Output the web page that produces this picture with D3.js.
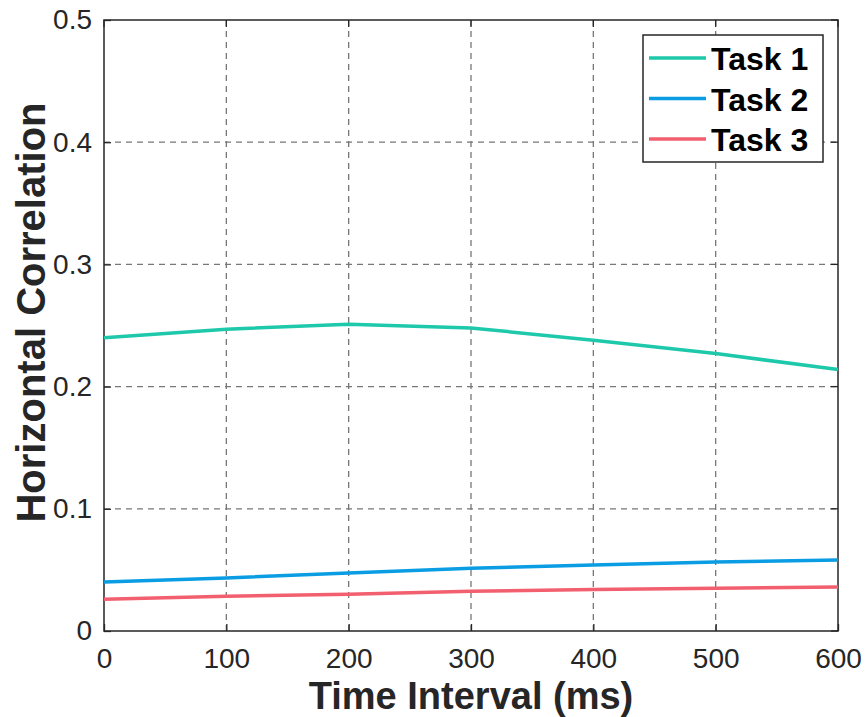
<!DOCTYPE html>
<html><head><meta charset="utf-8">
<script src="https://cdn.jsdelivr.net/npm/d3@7"></script>
<style>body{margin:0;background:#fff}</style>
</head><body>
<script>
const xValues = [0, 100, 200, 300, 400, 500, 600];
const task1 = [0.240, 0.247, 0.251, 0.248, 0.238, 0.227, 0.214];
const task2 = [0.040, 0.0434, 0.0475, 0.0513, 0.054, 0.0565, 0.058];
const task3 = [0.026, 0.0285, 0.030, 0.0325, 0.034, 0.035, 0.036];
const seriesNames = ["Task 1", "Task 2", "Task 3"];
const seriesColors = ["#1ec8aa", "#0a9de3", "#f25f6e"];
const xTicks = [0, 100, 200, 300, 400, 500, 600];
const yTicks = [0, 0.1, 0.2, 0.3, 0.4, 0.5];

const W = 865, H = 717;
const m = {l: 104, r: 27, t: 20, b: 86};
const svg = d3.select("body").append("svg").attr("width", W).attr("height", H);
const x = d3.scaleLinear().domain([0, 600]).range([m.l, W - m.r]);
const y = d3.scaleLinear().domain([0, 0.5]).range([H - m.b, m.t]);
const font = "'Liberation Sans', Arial, Helvetica, sans-serif";

// grid
const grid = svg.append("g").attr("stroke", "#777").attr("stroke-width", 1.3).attr("stroke-dasharray", "6,5");
xTicks.slice(1, -1).forEach(v => grid.append("line").attr("x1", x(v)).attr("x2", x(v)).attr("y1", y(0)).attr("y2", y(0.5)));
yTicks.slice(1, -1).forEach(v => grid.append("line").attr("x1", x(0)).attr("x2", x(600)).attr("y1", y(v)).attr("y2", y(v)));

// axes
const xAxis = d3.axisBottom(x).tickValues(xTicks).tickSizeInner(-7).tickSizeOuter(0).tickPadding(17).tickFormat(d3.format("d"));
const yAxis = d3.axisLeft(y).tickValues(yTicks).tickSizeInner(-7).tickSizeOuter(0).tickPadding(12).tickFormat(d => d === 0 ? "0" : d3.format(".1f")(d));
const gx = svg.append("g").attr("transform", `translate(0,${y(0)})`).call(xAxis);
const gy = svg.append("g").attr("transform", `translate(${x(0)},0)`).call(yAxis);
[gx, gy].forEach(g => {
  g.select(".domain").remove();
  g.selectAll("line").attr("stroke", "#262626").attr("stroke-width", 1.3);
  g.selectAll("text").attr("font-family", font).attr("font-size", 28).attr("fill", "#262626");
});
// top/right ticks
const tk = svg.append("g").attr("stroke", "#262626").attr("stroke-width", 1.3);
xTicks.forEach(v => tk.append("line").attr("x1", x(v)).attr("x2", x(v)).attr("y1", y(0.5)).attr("y2", y(0.5) + 7));
yTicks.forEach(v => tk.append("line").attr("x1", x(600)).attr("x2", x(600) - 7).attr("y1", y(v)).attr("y2", y(v)));

// box
svg.append("rect").attr("x", x(0)).attr("y", y(0.5)).attr("width", x(600) - x(0)).attr("height", y(0) - y(0.5))
  .attr("fill", "none").attr("stroke", "#262626").attr("stroke-width", 1.5);

// lines
const line = d3.line().x((d, i) => x(xValues[i])).y(d => y(d));
[task1, task2, task3].forEach((s, i) => {
  svg.append("path").datum(s).attr("d", line).attr("fill", "none").attr("stroke", seriesColors[i]).attr("stroke-width", 3.5);
});

// axis titles
svg.append("text").attr("x", (x(0) + x(600)) / 2).attr("y", 709).attr("text-anchor", "middle")
  .attr("font-family", font).attr("font-weight", "bold").attr("font-size", 38).attr("fill", "#262626").text("Time Interval (ms)");
svg.append("text").attr("transform", `translate(45,${(y(0) + y(0.5)) / 2 - 13}) rotate(-90)`).attr("text-anchor", "middle")
  .attr("font-family", font).attr("font-weight", "bold").attr("font-size", 40).attr("fill", "#262626").text("Horizontal Correlation");

// legend
const lg = svg.append("g");
lg.append("rect").attr("x", 643).attr("y", 35).attr("width", 180).attr("height", 127).attr("fill", "#fff").attr("stroke", "#262626").attr("stroke-width", 1.5);
seriesNames.forEach((n, i) => {
  const cy = 58 + i * 40.5;
  lg.append("line").attr("x1", 649).attr("x2", 706).attr("y1", cy).attr("y2", cy).attr("stroke", seriesColors[i]).attr("stroke-width", 3.5);
  lg.append("text").attr("x", 711).attr("y", cy + 12).attr("font-family", font).attr("font-weight", "bold").attr("font-size", 32).attr("fill", "#000").text(n);
});
</script>
</body></html>
